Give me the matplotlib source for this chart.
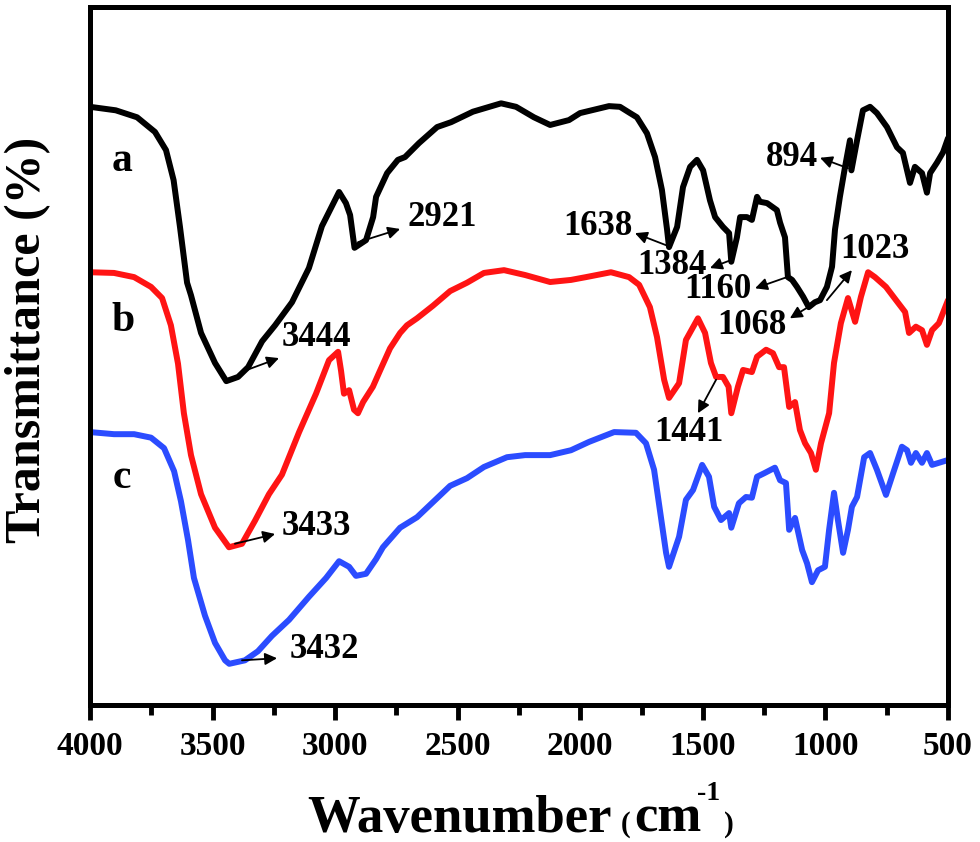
import matplotlib
matplotlib.use("Agg")
import matplotlib.pyplot as plt
from matplotlib.ticker import MultipleLocator

plt.rcParams['font.family'] = ['Liberation Serif', 'DejaVu Serif']
plt.rcParams['font.weight'] = 'bold'

# FTIR spectra (wavenumber cm-1, transmittance in arbitrary units)
a_wn = [4000, 3895, 3808, 3735, 3690, 3659, 3633, 3604, 3588, 3547, 3490, 3444, 3396, 3355, 3298,
        3245, 3176, 3107, 3054, 2984, 2956, 2939, 2921, 2874, 2845, 2833, 2788, 2744, 2715, 2658,
        2584, 2527, 2438, 2323, 2262, 2189, 2123, 2046, 2001, 1883, 1838, 1797, 1769, 1728, 1695,
        1667, 1646, 1638, 1605, 1581, 1552, 1524, 1499, 1471, 1450, 1418, 1393, 1384, 1361, 1348,
        1320, 1300, 1279, 1267, 1238, 1214, 1198, 1185, 1165, 1153, 1136, 1116, 1091, 1068, 1043,
        1022, 994, 973, 961, 941, 920, 900, 894, 871, 847, 818, 790, 749, 708, 684,
        655, 635, 606, 586, 573, 545, 520, 500]
a_T = [85.7, 85.2, 84.2, 82.1, 79.5, 75.2, 68.5, 60.5, 58.7, 53.3, 49.0, 46.4, 47.0, 48.4, 52.1,
       54.4, 57.7, 62.6, 68.6, 73.5, 71.9, 70.2, 65.5, 66.6, 69.9, 72.8, 76.2, 78.1, 78.5, 80.5,
       82.8, 83.5, 85.0, 86.2, 85.7, 84.2, 83.1, 83.8, 84.8, 85.8, 85.7, 84.8, 84.2, 81.9, 78.5,
       73.8, 68.1, 65.6, 68.5, 74.2, 77.1, 78.1, 76.6, 72.3, 69.9, 68.5, 67.6, 63.5, 67.0, 69.9,
       69.9, 69.5, 72.8, 72.1, 71.9, 71.3, 70.9, 69.1, 67.0, 61.3, 60.9, 59.9, 58.5, 57.0, 57.7,
       58.0, 59.9, 62.8, 68.1, 72.8, 77.1, 80.9, 76.6, 80.9, 85.2, 85.7, 84.8, 82.8, 79.9, 79.1,
       74.8, 77.1, 76.2, 73.4, 76.2, 77.7, 79.2, 81.2]

b_wn = [4000, 3902, 3820, 3751, 3706, 3670, 3641, 3617, 3588, 3547, 3490, 3433, 3380, 3327, 3270,
        3217, 3147, 3078, 3025, 2988, 2976, 2964, 2943, 2923, 2907, 2886, 2846, 2817, 2776, 2735,
        2707, 2666, 2601, 2531, 2462, 2393, 2311, 2225, 2123, 2038, 1977, 1875, 1801, 1760, 1716,
        1687, 1658, 1638, 1597, 1569, 1520, 1491, 1467, 1446, 1418, 1395, 1384, 1357, 1336, 1300,
        1279, 1242, 1214, 1189, 1169, 1148, 1124, 1104, 1083, 1059, 1039, 1018, 985, 965, 937,
        908, 879, 855, 826, 798, 753, 712, 675, 659, 631, 606, 586, 565, 537, 500]
b_T = [62.0, 61.9, 61.3, 59.9, 58.3, 54.4, 48.9, 41.8, 35.8, 30.2, 25.4, 22.6, 23.1, 26.4, 30.2,
       33.0, 39.1, 44.6, 49.4, 50.6, 47.9, 44.6, 45.1, 42.3, 41.8, 43.4, 45.6, 47.9, 51.1, 53.3,
       54.4, 55.4, 57.2, 59.3, 60.5, 61.9, 62.3, 61.6, 60.6, 60.9, 61.3, 62.0, 61.3, 60.2, 57.0,
       52.7, 46.6, 44.0, 46.1, 52.3, 55.4, 53.3, 49.0, 47.0, 47.0, 45.6, 41.8, 45.6, 48.0, 47.7,
       49.9, 50.9, 50.4, 48.4, 48.4, 42.7, 43.4, 39.4, 37.5, 36.1, 33.7, 37.5, 41.8, 49.0, 54.7,
       58.3, 54.9, 58.5, 62.0, 61.3, 59.9, 58.0, 56.3, 53.3, 54.2, 53.7, 51.6, 53.7, 54.7, 58.0]

c_wn = [4000, 3902, 3820, 3751, 3698, 3657, 3629, 3600, 3576, 3531, 3490, 3449, 3432, 3368, 3315,
        3258, 3188, 3107, 3037, 2984, 2943, 2915, 2874, 2833, 2805, 2735, 2666, 2597, 2531, 2462,
        2393, 2299, 2225, 2123, 2038, 1964, 1862, 1773, 1732, 1699, 1671, 1650, 1638, 1597, 1569,
        1540, 1503, 1475, 1454, 1426, 1393, 1384, 1353, 1324, 1300, 1279, 1250, 1206, 1185, 1161,
        1148, 1124, 1095, 1075, 1055, 1030, 1002, 985, 965, 949, 928, 908, 892, 871, 842,
        818, 790, 753, 724, 688, 667, 651, 631, 606, 586, 565, 537, 500]
c_T = [39.1, 38.8, 38.8, 38.3, 36.8, 33.5, 29.2, 23.6, 18.2, 12.8, 8.9, 6.4, 5.9, 6.4, 7.7,
       9.9, 12.2, 15.5, 18.2, 20.6, 19.8, 18.5, 18.8, 20.9, 22.6, 25.4, 26.9, 29.2, 31.4, 32.5,
       34.1, 35.5, 35.8, 35.8, 36.5, 37.7, 39.1, 39.0, 37.5, 33.7, 26.9, 21.8, 19.8, 24.1, 29.4,
       30.8, 34.4, 32.7, 28.4, 26.5, 27.5, 25.4, 28.9, 29.8, 29.7, 32.7, 33.2, 34.0, 32.2, 31.8,
       25.1, 26.8, 22.2, 20.3, 17.6, 19.3, 19.8, 25.1, 30.4, 26.5, 21.8, 25.1, 28.4, 29.8, 35.5,
       36.1, 33.7, 30.1, 33.2, 37.0, 36.5, 34.7, 36.1, 34.7, 36.1, 34.4, 34.7, 35.1]

curve_names = ['a', 'b', 'c']
curve_colors = ['#000000', '#ff1414', '#2b4cff']
name_pos = [(3869, 78.0), (3865, 55.0), (3869, 32.5)]

# peak labels: text, text position, arrow tail (on curve), arrow head
peak_labels = [
    ('3444', (3078, 52.7), (3368, 47.9), (3229, 49.7)),
    ('2921', (2564, 69.9), (2907, 66.3), (2735, 68.2)),
    ('3433', (3078, 25.6), (3409, 23.1), (3245, 24.5)),
    ('3432', (3045, 8.0), (3380, 6.4), (3237, 6.7)),
    ('1638', (1928, 68.5), (1630, 65.6), (1777, 67.6)),
    ('1384', (1626, 63.0), (1381, 63.8), (1471, 62.6)),
    ('1160', (1438, 59.5), (1157, 61.3), (1287, 59.7)),
    ('1068', (1300, 54.4), (1071, 57.0), (1145, 55.4)),
    ('1023', (798, 65.2), (994, 58.0), (892, 62.3)),
    ('894', (1136, 78.5), (908, 76.9), (1022, 78.4)),
    ('1441', (1557, 39.0), (1446, 46.6), (1520, 41.8)),
]

fig = plt.figure(figsize=(9.8, 8.42), dpi=100)
ax = fig.add_axes([90 / 980, 1 - 705 / 842, 858 / 980, 698 / 842])

for wn, t, col in zip([a_wn, b_wn, c_wn], [a_T, b_T, c_T], curve_colors):
    ax.plot(wn, t, color=col, lw=4.3, solid_joinstyle='round', solid_capstyle='round')

for name, (x, y) in zip(curve_names, name_pos):
    ax.text(x, y, name, fontsize=30, fontweight='bold', ha='center', va='center')

for lab, txt_xy, tail, head in peak_labels:
    ax.text(txt_xy[0], txt_xy[1], lab, fontsize=25, fontweight='bold', ha='center', va='center')
    ax.annotate('', xy=head, xytext=tail,
                arrowprops=dict(arrowstyle='-|>', color='black', lw=1.3,
                                mutation_scale=18, shrinkA=0, shrinkB=0))

ax.set_xlim(4000, 500)
ax.set_ylim(0, 100)
ax.xaxis.set_major_locator(MultipleLocator(500))
ax.xaxis.set_minor_locator(MultipleLocator(250))
ax.set_yticks([])
ax.tick_params(axis='x', which='major', direction='out', length=11, width=3.5,
               labelsize=24, pad=8)
ax.tick_params(axis='x', which='minor', direction='out', length=7, width=3.5)
for lbl in ax.get_xticklabels():
    lbl.set_fontweight('bold')
for sp in ax.spines.values():
    sp.set_linewidth(3.6)

# axis titles
fig.text(28 / 980, 1 - 340 / 842, 'Transmittance (%)', rotation=90, fontsize=36,
         fontweight='bold', ha='center', va='center')
fig.text(459 / 980, 1 - 832 / 842, 'Wavenumber', fontsize=38, fontweight='bold',
         ha='center', va='baseline')
fig.text(621 / 980, 1 - 832 / 842, '(', fontsize=21, fontweight='bold', ha='left', va='baseline')
fig.text(634 / 980, 1 - 832 / 842, 'cm', fontsize=38, fontweight='bold', ha='left', va='baseline')
fig.text(697 / 980, 1 - 800 / 842, '-1', fontsize=20, fontweight='bold', ha='left', va='baseline')
fig.text(724 / 980, 1 - 832 / 842, ')', fontsize=21, fontweight='bold', ha='left', va='baseline')

fig.savefig('out.png', dpi=100)
